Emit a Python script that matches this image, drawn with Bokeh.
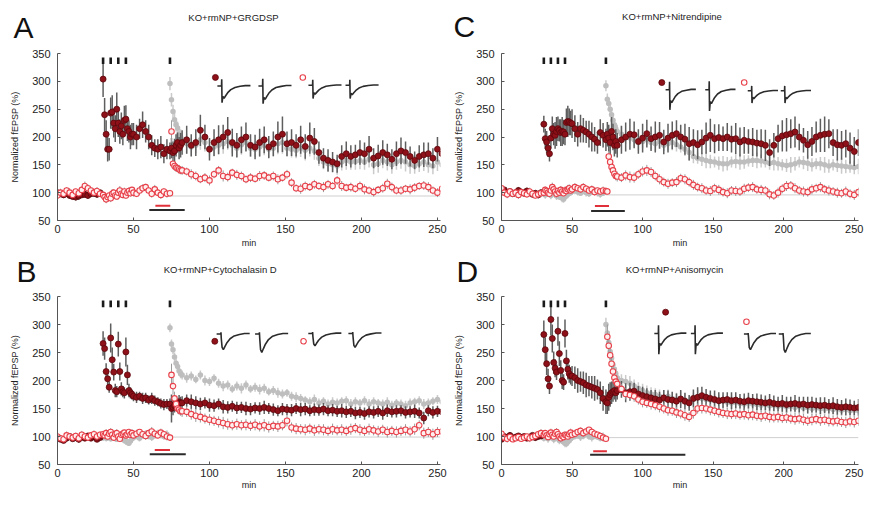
import math
from bokeh.plotting import figure
from bokeh.layouts import row, column
from bokeh.models import FixedTicker, Range1d
from bokeh.core.properties import value
from bokeh.embed import file_html
from bokeh.resources import INLINE

N = float("nan")
FONT = "Liberation Sans"

# ---------------- sampling grid (minutes) ----------------
t_base = list(range(0, 30, 2))      # 15
t_tet = list(range(30, 50))         # 20
t_pre = list(range(50, 74, 2))      # 12
t_s2 = list(range(74, 82))          # 8
t_post = list(range(82, 256, 3))    # 58
minutes = t_base + t_tet + t_pre + t_s2 + t_post
NPTS = len(minutes)


def series(*segs):
    out = []
    for s in segs:
        out += s
    return (out + [N] * NPTS)[:NPTS]


# ---------------- Panel A : KO+rmNP+GRGDSP ----------------
A_red = series(
    [100, 98, 96, 99, 95, 93, 92, 94, 96, 97, 95, 98, 99, 97, 100],
    [304, 240, 205, 178, 178, 243, 245, 225, 215, 250, 225, 210, 220, 205, 230, 232, 215, 210, 200, 205],
    [205, 200, 215, 222, 210, 200, 185, 180, 178, 182, 170, 178],
    [175, 180, 172, 175, 185, 190, 180, 185],
    [190, 195, 185, 190, 212, 200, 178, 190, 195, 200, 208, 190, 185, 195, 200,
     185, 182, 190, 195, 182, 188, 200, 205, 188, 190, 185, 195, 183, 198, 192, 172,
     162, 158, 155, 152, 165, 170, 165, 168, 172, 170, 178, 162, 166, 172, 168, 160,
     170, 175, 172, 165, 158, 165, 168, 170, 162, 178, 170])
A_red_err = series(
    [5, 6, 5, 7, 6, 5, 6, 7, 5, 6, 6, 5, 7, 6, 5],
    [32, 30, 25, 22, 20, 28, 30, 26, 24, 30, 25, 22, 24, 20, 26, 25, 22, 20, 22, 20],
    [20, 22, 18, 24, 20, 22, 18, 16, 18, 20, 17, 18],
    [15, 18, 20, 22, 20, 18, 20, 22],
    [22, 25, 20, 24, 28, 22, 20, 24, 26, 22, 28, 25, 22, 24, 26, 20, 22, 25, 24, 20,
     22, 28, 32, 22, 24, 20, 25, 22, 28, 24, 20, 18, 20, 18, 16, 20, 22, 20, 18, 22,
     20, 24, 18, 20, 22, 20, 18, 22, 24, 20, 18, 16, 20, 22, 20, 18, 22, 20])
A_pink = series(
    [95, 100, 98, 104, 100, 96, 102, 99, 105, 112, 108, 104, 100, 103, 98],
    [96, 92, 88, 92, 95, 90, 98, 100, 95, 93, 100, 104, 98, 96, 102, 95, 100, 103, 99, 105],
    [100, 98, 104, 108, 110, 104, 98, 106, 100, 96, 102, 98],
    [99, 210, 152, 148, 145, 144, 142, 140],
    [140, 138, 133, 130, 124, 127, 122, 133, 140, 130, 128, 136, 132, 130, 124,
     127, 125, 130, 131, 127, 130, 124, 127, 133, 118, 108, 107, 112, 110, 115, 112,
     110, 115, 112, 122, 112, 109, 110, 107, 112, 106, 104, 101, 105, 108, 116, 110,
     104, 104, 107, 106, 109, 112, 113, 110, 104, 100, 107])
A_pink_err = series(
    [6, 7, 5, 6, 8, 6, 5, 7, 6, 8, 7, 6, 5, 7, 6],
    [6, 8, 7, 6, 5, 7, 8, 6, 7, 6, 5, 8, 7, 6, 7, 6, 8, 7, 6, 5],
    [7, 6, 8, 7, 6, 5, 7, 8, 6, 7, 6, 7],
    [6, 20, 10, 8, 8, 7, 8, 7],
    [8, 7, 9, 8, 7, 8, 9, 7, 8, 10, 8, 7, 9, 8, 7, 8, 7, 9, 8, 7, 8, 9, 7, 8,
     8, 7, 9, 8, 7, 8, 7, 9, 8, 7, 8, 9, 7, 8, 7, 8, 9, 7, 8, 7, 8, 9, 8, 7,
     8, 7, 9, 8, 7, 8, 9, 7, 8, 7])
A_gray = series(
    [N] * 15, [N] * 20, [N] * 12,
    [296, 267, 246, 231, 222, 216, 205, 200],
    [195, 188, 182, 185, 195, 190, 180, 182, 185, 188, 192, 185, 180, 186, 190,
     180, 178, 182, 185, 178, 180, 188, 190, 180, 178, 176, 180, 176, 180, 175, 162,
     155, 152, 150, 148, 155, 158, 155, 156, 158, 155, 160, 150, 152, 158, 155, 150,
     155, 158, 155, 150, 148, 152, 155, 150, 148, 155, 150])
A_gray_err = series(
    [N] * 15, [N] * 20, [N] * 12,
    [12, 12, 12, 12, 12, 12, 14, 14],
    [15, 18, 16, 14, 18, 16, 15, 17, 16, 18, 15, 14, 16, 18, 15, 16, 14, 17, 18, 15,
     16, 19, 20, 16, 15, 14, 16, 18, 15, 16, 14, 13, 15, 14, 16, 15, 17, 14, 15, 16,
     14, 15, 17, 16, 14, 15, 16, 14, 15, 17, 16, 14, 15, 16, 14, 15, 16, 14])

# ---------------- Panel B : KO+rmNP+Cytochalasin D ----------------
B_red = series(
    [98, 95, 93, 97, 100, 96, 98, 95, 99, 97, 101, 97, 100, 95, 98],
    [266, 257, 216, 203, 188, 276, 237, 215, 182, 180, 265, 216, 185, 180, 178, 251, 210, 182, 178, 175],
    [172, 170, 172, 168, 169, 165, 168, 164, 162, 159, 157, 158],
    [158, 150, 152, 155, 160, 158, 162, 160],
    [160, 164, 162, 160, 158, 160, 156, 155, 158, 153, 152, 154, 151, 152, 150,
     149, 151, 150, 152, 150, 148, 146, 149, 148, 147, 150, 148, 149, 146, 148, 147,
     149, 146, 147, 145, 146, 144, 145, 142, 143, 141, 144, 143, 145, 142, 146, 144,
     145, 146, 143, 144, 145, 142, 133, 146, 143, 145, 144])
B_red_err = series(
    [4, 5, 4, 6, 5, 4, 5, 6, 4, 5, 5, 4, 6, 5, 4],
    [22, 20, 15, 12, 10, 26, 22, 15, 12, 10, 22, 16, 12, 10, 10, 26, 18, 12, 10, 9],
    [9, 10, 8, 10, 9, 8, 10, 9, 8, 9, 10, 9],
    [10, 25, 14, 12, 11, 10, 12, 11],
    [12, 11, 13, 12, 11, 10, 12, 11, 10, 12, 11, 10, 11, 10, 12, 11, 10, 11, 12, 10,
     11, 10, 11, 10, 11, 10, 12, 11, 10, 11, 10, 11, 10, 11, 10, 12, 11, 10, 11, 10,
     11, 10, 11, 10, 12, 11, 10, 11, 10, 11, 10, 12, 10, 11, 10, 11, 10, 11])
B_pink = series(
    [100, 97, 95, 102, 100, 98, 101, 97, 103, 100, 98, 102, 104, 100, 103],
    [104, 102, 106, 100, 105, 108, 103, 98, 104, 106, 100, 96, 103, 105, 107, 102, 104, 108, 103, 106],
    [102, 105, 108, 104, 101, 106, 109, 105, 102, 107, 104, 100],
    [98, 210, 190, 168, 158, 150, 148, 145],
    [145, 144, 140, 137, 135, 132, 130, 128, 126, 124, 122, 120, 122, 120, 121,
     119, 121, 118, 120, 117, 119, 118, 120, 128, 116, 114, 113, 112, 114, 111, 113,
     112, 110, 113, 111, 112, 110, 113, 115, 112, 110, 113, 111, 109, 112, 108, 110,
     108, 110, 112, 109, 113, 120, 106, 108, 104, 108, 109])
B_pink_err = series(
    [5, 6, 5, 7, 6, 5, 6, 5, 7, 6, 5, 6, 7, 5, 6],
    [6, 5, 7, 6, 5, 7, 6, 5, 6, 7, 5, 6, 7, 6, 5, 6, 7, 5, 6, 7],
    [6, 7, 5, 6, 7, 6, 8, 6, 5, 7, 6, 7],
    [6, 20, 15, 12, 10, 9, 9, 8],
    [10, 9, 10, 11, 10, 9, 10, 9, 10, 11, 10, 9, 10, 9, 10, 9, 10, 9, 11, 10,
     9, 10, 9, 10, 9, 10, 9, 10, 9, 10, 9, 10, 9, 10, 9, 10, 9, 10, 9, 10,
     9, 10, 9, 10, 9, 10, 9, 10, 9, 10, 9, 10, 9, 10, 9, 10, 9, 10])
B_gray = series(
    [N] * 15,
    [98, 100, 97, 99, 101, 96, 98, 100, 97, 95, 99, 102, 98, 95, 93, 92, 90, 88, 92, 96],
    [98, 100, 97, 103, 105, 100, 98, 103, 106, 102, 100, 104],
    [294, 265, 255, 242, 231, 225, 217, 212],
    [210, 205, 208, 202, 210, 200, 198, 204, 195, 190, 192, 185, 190, 186, 192,
     185, 188, 184, 186, 180, 182, 178, 176, 178, 172, 170, 168, 165, 162, 166, 160,
     163, 158, 161, 160, 163, 164, 158, 162, 160, 164, 158, 162, 160, 158, 161, 156,
     160, 158, 155, 160, 162, 164, 158, 160, 163, 166, 162])
B_gray_err = series(
    [N] * 15,
    [6, 5, 6, 7, 6, 5, 6, 7, 6, 5, 6, 7, 6, 5, 6, 7, 6, 5, 6, 7],
    [6, 5, 6, 7, 6, 5, 6, 7, 6, 5, 6, 7],
    [8, 8, 8, 8, 8, 8, 8, 8],
    [8, 9, 8, 7, 8, 9, 8, 7, 8, 9, 8, 7, 8, 9, 8, 7, 8, 9, 8, 7, 8, 9, 8, 7,
     8, 9, 8, 7, 8, 9, 8, 7, 8, 9, 8, 7, 8, 9, 8, 7, 8, 9, 8, 7, 8, 9, 8, 7,
     8, 9, 8, 7, 8, 9, 8, 7, 8, 9])

# ---------------- Panel C : KO+rmNP+Nitrendipine ----------------
C_red = series(
    [103, 105, 100, 102, 98, 100, 104, 101, 99, 103, 100, 97, 99, 96, 100],
    [223, 197, 191, 180, 170, 198, 215, 205, 203, 210, 215, 212, 208, 210, 209, 205, 226, 228, 227, 225],
    [224, 215, 205, 215, 212, 209, 205, 200, 196, 190, 208, 203],
    [195, 205, 198, 190, 210, 200, 185, 192],
    [185, 195, 200, 205, 204, 192, 198, 206, 197, 200, 203, 191, 198, 203, 206,
     200, 196, 188, 190, 186, 191, 198, 203, 197, 199, 197, 200, 196, 197, 191, 194,
     192, 191, 189, 188, 185, 172, 185, 197, 202, 204, 206, 209, 200, 194, 186, 192,
     200, 203, 205, 206, 190, 186, 185, 188, 180, 174, 190])
C_red_err = series(
    [5, 4, 6, 5, 4, 5, 6, 4, 5, 6, 5, 4, 5, 6, 5],
    [15, 18, 20, 16, 14, 18, 22, 20, 24, 26, 22, 20, 24, 26, 22, 20, 25, 28, 24, 22],
    [26, 24, 22, 25, 22, 20, 24, 26, 22, 20, 24, 22],
    [20, 22, 24, 22, 26, 24, 20, 22],
    [22, 25, 26, 28, 24, 22, 26, 25, 22, 28, 24, 22, 26, 25, 24, 22, 28, 30, 24, 26,
     22, 28, 30, 26, 24, 22, 25, 24, 28, 26, 24, 22, 25, 24, 26, 28, 24, 22, 25, 28,
     30, 26, 28, 24, 22, 25, 26, 28, 30, 32, 26, 24, 28, 26, 25, 28, 26, 24])
C_pink = series(
    [108, 100, 97, 102, 98, 100, 96, 101, 99, 97, 102, 98, 95, 97, 99],
    [100, 105, 103, 100, 98, 104, 110, 106, 102, 98, 103, 100, 105, 102, 99, 104, 103, 106, 108, 104],
    [106, 110, 108, 106, 110, 107, 104, 106, 101, 104, 102, 104],
    [103, 102, 165, 155, 146, 140, 134, 130],
    [129, 127, 131, 128, 127, 133, 138, 140, 137, 130, 124, 119, 116, 118, 119,
     126, 124, 119, 114, 110, 108, 104, 103, 108, 105, 101, 99, 104, 103, 102, 107,
     109, 110, 106, 105, 104, 97, 95, 100, 107, 112, 113, 108, 104, 102, 101, 106,
     108, 110, 106, 104, 102, 100, 99, 102, 98, 96, 101])
C_pink_err = series(
    [6, 5, 7, 6, 5, 6, 7, 5, 6, 5, 7, 6, 5, 6, 7],
    [7, 6, 5, 7, 6, 5, 8, 6, 5, 7, 6, 5, 7, 6, 5, 7, 6, 8, 7, 6],
    [6, 7, 5, 6, 7, 6, 5, 7, 6, 5, 6, 7],
    [6, 5, 10, 9, 8, 9, 8, 8],
    [9, 8, 9, 10, 9, 8, 9, 10, 9, 8, 9, 8, 9, 8, 9, 8, 9, 8, 9, 8, 9, 8, 9, 8,
     9, 8, 9, 8, 9, 8, 9, 8, 9, 8, 9, 8, 9, 8, 9, 8, 9, 8, 9, 8, 9, 8, 9, 8,
     9, 8, 9, 8, 9, 8, 9, 8, 9, 8])
C_gray = series(
    [N] * 15,
    [98, 96, 100, 97, 99, 95, 98, 101, 97, 94, 96, 92, 94, 90, 88, 92, 95, 97, 99, 100],
    [102, 104, 101, 99, 103, 100, 98, 101, 104, 100, 97, 99],
    [292, 268, 260, 250, 240, 230, 222, 215],
    [210, 205, 200, 198, 195, 190, 192, 195, 190, 188, 192, 185, 188, 190, 186,
     182, 178, 172, 165, 162, 160, 158, 156, 155, 153, 152, 152, 155, 156, 155, 155,
     157, 158, 158, 157, 155, 153, 154, 152, 150, 149, 150, 152, 155, 154, 153, 150,
     152, 152, 150, 148, 150, 149, 148, 147, 146, 145, 147])
C_gray_err = series(
    [N] * 15,
    [6, 7, 6, 5, 6, 7, 6, 5, 6, 7, 6, 5, 6, 7, 6, 5, 6, 7, 6, 5],
    [6, 7, 6, 5, 6, 7, 6, 5, 6, 7, 6, 5],
    [10, 10, 10, 10, 10, 10, 10, 10],
    [12, 14, 12, 10, 12, 14, 12, 10, 12, 14, 12, 10, 12, 14, 12, 10, 12, 14, 12, 10,
     12, 14, 12, 10, 12, 14, 12, 10, 12, 14, 12, 10, 12, 14, 12, 10, 12, 14, 12, 10,
     12, 14, 12, 10, 12, 14, 12, 10, 12, 14, 12, 10, 12, 14, 12, 10, 12, 14])

# ---------------- Panel D : KO+rmNP+Anisomycin ----------------
D_red = series(
    [95, 100, 98, 102, 97, 99, 101, 98, 100, 97, 99, 102, 98, 100, 101],
    [282, 255, 230, 203, 190, 309, 275, 232, 222, 215, 288, 248, 218, 200, 197, 284, 235, 220, 212, 208],
    [208, 205, 200, 198, 196, 192, 190, 188, 186, 184, 178, 168],
    [162, 160, 170, 175, 178, 180, 182, 178],
    [182, 184, 178, 180, 181, 176, 173, 171, 169, 167, 165, 169, 166, 165, 163,
     167, 163, 160, 168, 170, 173, 170, 168, 166, 164, 165, 166, 164, 165, 163, 162,
     164, 163, 162, 161, 160, 161, 159, 158, 159, 157, 158, 159, 157, 158, 156, 157,
     156, 155, 156, 154, 155, 153, 152, 153, 152, 151, 152])
D_red_err = series(
    [4, 5, 4, 6, 5, 4, 5, 6, 4, 5, 5, 4, 6, 5, 4],
    [25, 22, 20, 18, 14, 28, 25, 20, 16, 14, 26, 22, 18, 15, 14, 25, 20, 18, 16, 15],
    [18, 20, 22, 18, 20, 22, 18, 20, 22, 18, 20, 22],
    [22, 20, 24, 22, 20, 18, 16, 16],
    [16, 15, 17, 16, 15, 14, 16, 15, 14, 16, 15, 14, 16, 15, 14, 16, 15, 14, 16, 18,
     16, 15, 14, 16, 15, 14, 13, 15, 14, 13, 15, 14, 13, 15, 14, 13, 15, 14, 13, 15,
     14, 13, 15, 14, 13, 15, 14, 13, 15, 14, 13, 15, 14, 13, 15, 14, 13, 15])
D_pink = series(
    [105, 98, 96, 99, 95, 97, 99, 96, 98, 100, 97, 99, 101, 104, 106],
    [103, 106, 102, 99, 104, 107, 103, 100, 105, 108, 104, 100, 97, 101, 99, 103, 102, 100, 104, 107],
    [103, 105, 108, 110, 106, 109, 112, 108, 105, 103, 101, 98],
    [96, 278, 262, 245, 230, 216, 205, 198],
    [194, 185, 176, 174, 172, 166, 162, 160, 158, 156, 153, 150, 147, 146, 143,
     141, 138, 135, 142, 150, 151, 150, 148, 146, 144, 142, 141, 140, 141, 139, 140,
     138, 139, 137, 136, 137, 135, 134, 135, 133, 134, 132, 131, 132, 130, 128, 130,
     131, 129, 130, 128, 127, 128, 126, 125, 127, 126, 128])
D_pink_err = series(
    [6, 5, 7, 6, 5, 6, 7, 5, 6, 5, 7, 6, 5, 6, 7],
    [6, 5, 7, 6, 5, 7, 6, 5, 6, 7, 5, 6, 7, 6, 5, 6, 7, 5, 6, 7],
    [6, 7, 5, 6, 7, 6, 5, 7, 6, 5, 6, 7],
    [6, 22, 18, 15, 12, 10, 10, 10],
    [10, 9, 10, 9, 10, 9, 10, 9, 10, 9, 10, 9, 10, 9, 10, 9, 10, 9, 10, 9, 10, 9, 10, 9,
     10, 9, 10, 9, 10, 9, 10, 9, 10, 9, 10, 9, 10, 9, 10, 9, 10, 9, 10, 9, 10, 9, 10, 9,
     10, 9, 10, 9, 10, 9, 10, 9, 10, 9])
D_gray = series(
    [N] * 15,
    [97, 100, 98, 96, 99, 101, 98, 95, 97, 99, 96, 93, 95, 92, 90, 88, 87, 90, 93, 96],
    [98, 100, 102, 99, 101, 104, 100, 98, 101, 99, 97, 100],
    [300, 285, 268, 252, 240, 228, 220, 212],
    [205, 200, 198, 195, 190, 186, 182, 178, 176, 175, 172, 170, 172, 168, 166,
     168, 165, 162, 166, 170, 168, 166, 165, 164, 162, 163, 161, 160, 161, 159, 158,
     160, 158, 157, 156, 157, 155, 156, 154, 155, 153, 154, 152, 153, 151, 152, 150,
     151, 150, 149, 150, 148, 149, 147, 148, 146, 147, 146])
D_gray_err = series(
    [N] * 15,
    [6, 5, 6, 7, 6, 5, 6, 7, 6, 5, 6, 7, 6, 5, 6, 7, 6, 5, 6, 7],
    [6, 5, 6, 7, 6, 5, 6, 7, 6, 5, 6, 7],
    [12, 12, 12, 12, 12, 12, 12, 12],
    [12, 11, 12, 13, 12, 11, 12, 13, 12, 11, 12, 13, 12, 11, 12, 13, 12, 11, 12, 13,
     12, 11, 12, 13, 12, 11, 12, 13, 12, 11, 12, 13, 12, 11, 12, 13, 12, 11, 12, 13,
     12, 11, 12, 13, 12, 11, 12, 13, 12, 11, 12, 13, 12, 11, 12, 13, 12, 11])

# ---------------- protocol annotations ----------------
tetanus_times = [30, 35, 40, 45, 74]
red_bar_start = [64.4, 64.0, 66.2, 65.0]
red_bar_end = [74.2, 74.0, 76.2, 74.7]
black_bar_start = [60.4, 60.7, 63.5, 62.8]
black_bar_end = [83.7, 84.4, 87.4, 130.3]
ref_line_level = [94, 99, 96, 98]

# inset fEPSP trace shape (normalised)
trace_ms = [0, 4, 4.2, 4.5, 5.3, 6.5, 8, 10, 13, 17, 22, 27, 32]
trace_art = [0, 0, 0.4, -1.0, 0, 0, 0, 0, 0, 0, 0, 0, 0]
trace_epsp = [0, 0, 0, 0, 0.85, 1.0, 0.8, 0.55, 0.3, 0.12, 0.03, -0.03, -0.03]
trace_epsp_amp = {"A": [22, 24, 16, 17], "B": [28, 33, 22, 25],
                  "C": [23, 25, 14, 14], "D": [21, 21, 28, 33]}
trace_art_amp = {"A": [30, 32, 24, 24], "B": [8, 8, 6, 6],
                 "C": [36, 38, 22, 22], "D": [37, 37, 4, 4]}

titles = {"A": "KO+rmNP+GRGDSP", "B": "KO+rmNP+Cytochalasin D",
          "C": "KO+rmNP+Nitrendipine", "D": "KO+rmNP+Anisomycin"}

# ---------------- layout (positions / styles) ----------------
COL_W = {0: 448, 1: 416}
BORDER_L = {0: 57, 1: 53}
BORDER_R = {0: 8, 1: 6}
HEAD_H = {0: 44, 1: 40}
PLOT_H = {0: 206, 1: 202}
BORDER_T = {0: 9, 1: 6}
BORDER_B = {0: 29, 1: 28}
XMAX = {0: 252, 1: 253}

layout = {
    "A": dict(i=0, col=0, row=0, head_title=(233, 16.7), head_letter=(13, 27),
              bars_y=(76.7, 69), trace_x=[105.2, 132.2, 165.1, 189.5], trace_y=[291.7, 291.7, 293, 293],
              trace_w=0.68, mk_fill=(103.9, 307), mk_open=(161.4, 307)),
    "B": dict(i=1, col=0, row=1, head_title=(219.7, 18.7), head_letter=(16, 21),
              bars_y=(76, 68.4), trace_x=[104.7, 130, 165, 191.4], trace_y=[283, 283, 284, 284],
              trace_w=0.68, mk_fill=(103.5, 270), mk_open=(161.9, 270)),
    "C": dict(i=2, col=1, row=0, head_title=(223.5, 16), head_letter=(5, 26),
              bars_y=(76.2, 67), trace_x=[116.3, 144.4, 174.5, 197.9], trace_y=[284.8, 284.8, 283, 283],
              trace_w=0.67, mk_fill=(113.6, 297.8), mk_open=(172, 298)),
    "D": dict(i=3, col=1, row=1, head_title=(226, 19.3), head_letter=(8, 21),
              bars_y=(73.5, 67.6), trace_x=[108.3, 134.2, 171.8, 196.5], trace_y=[284, 284, 283, 283],
              trace_w=0.71, mk_fill=(116.3, 322), mk_open=(173.6, 304.8)),
}

DATA = {
    "A": (A_red, A_red_err, A_pink, A_pink_err, A_gray, A_gray_err),
    "B": (B_red, B_red_err, B_pink, B_pink_err, B_gray, B_gray_err),
    "C": (C_red, C_red_err, C_pink, C_pink_err, C_gray, C_gray_err),
    "D": (D_red, D_red_err, D_pink, D_pink_err, D_gray, D_gray_err),
}

RED_FILL = "#8E1018"
RED_LINE = "#5C070C"
PINK_LINE = "#E8404A"
PINK_FILL = "#FFF0F0"
GRAY_FILL = "#BEBEBE"


def no_align(fig):
    try:
        fig.frame_align = False
    except Exception:
        pass


def valid(vals, errs=None):
    xs, ys, lo, hi = [], [], [], []
    for k, (t, v) in enumerate(zip(minutes, vals)):
        if v is None or math.isnan(v):
            continue
        xs.append(t)
        ys.append(v)
        e = errs[k] if errs is not None else N
        if e is None or math.isnan(e):
            e = 0
        lo.append(v - e)
        hi.append(v + e)
    return xs, ys, lo, hi


def build_header(key):
    L = layout[key]
    w = COL_W[L["col"]]
    h = HEAD_H[L["row"]]
    hp = figure(width=w, height=h, x_range=Range1d(0, w), y_range=Range1d(h, 0),
                output_backend="svg", toolbar_location=None,
                x_axis_type=None, y_axis_type=None,
                min_border=0, min_border_left=0, min_border_right=0,
                min_border_top=0, min_border_bottom=0)
    no_align(hp)
    hp.grid.visible = False
    hp.outline_line_color = None
    hp.background_fill_color = "white"
    hp.border_fill_color = "white"
    tx, ty = L["head_title"]
    hp.text(x=[tx], y=[ty], text=[titles[key]], text_font=value(FONT),
            text_font_size="9.5px", text_color="#222222",
            text_align="center", text_baseline="middle")
    lx, ly = L["head_letter"]
    hp.text(x=[lx], y=[ly], text=[key], text_font=value(FONT),
            text_font_size="30px", text_color="#111111",
            text_align="left", text_baseline="middle")
    return hp


def build(key):
    L = layout[key]
    i = L["i"]
    red, red_e, pink, pink_e, gray, gray_e = DATA[key]
    col, rw = L["col"], L["row"]
    xmax = XMAX[col]
    p = figure(width=COL_W[col], height=PLOT_H[rw],
               x_range=Range1d(0, xmax), y_range=Range1d(50, 350),
               output_backend="svg", toolbar_location=None,
               min_border_left=BORDER_L[col], min_border_right=BORDER_R[col],
               min_border_top=BORDER_T[rw], min_border_bottom=BORDER_B[rw])
    no_align(p)
    p.outline_line_color = None
    p.grid.visible = False
    p.background_fill_color = "white"
    p.border_fill_color = "white"

    for ax in (p.xaxis[0], p.yaxis[0]):
        ax.axis_line_color = "#555555"
        ax.major_tick_line_color = "#555555"
        ax.major_tick_in = 3
        ax.major_tick_out = 0
        ax.minor_tick_line_color = None
        ax.major_label_text_font = FONT
        ax.major_label_text_font_size = "11px"
        ax.major_label_text_color = "#222222"
        ax.axis_label_text_font = FONT
        ax.axis_label_text_font_size = "9px"
        ax.axis_label_text_font_style = "normal"
        ax.axis_label_text_color = "#222222"
    p.xaxis.ticker = FixedTicker(ticks=[0, 50, 100, 150, 200, 250])
    p.yaxis.ticker = FixedTicker(ticks=[50, 100, 150, 200, 250, 300, 350])
    p.xaxis.axis_label = "min"
    p.yaxis.axis_label = "Normalized fEPSP (%)"
    p.xaxis.major_label_standoff = 4
    p.xaxis.axis_label_standoff = 2 if rw == 0 else 0
    p.yaxis.major_label_standoff = 7
    p.yaxis.axis_label_standoff = 9

    # 100 % reference line
    lvl = ref_line_level[i]
    p.line(x=[74, xmax], y=[lvl, lvl], line_color="#CFCFCF", line_width=1)

    # gray series
    gx, gy, glo, ghi = valid(gray, gray_e)
    p.segment(x0=gx, y0=glo, x1=gx, y1=ghi, line_color="#CACACA", line_width=1.5)
    p.scatter(x=gx, y=gy, size=5.5, fill_color=GRAY_FILL, line_color=None)

    # error bars
    rx, ry, rlo, rhi = valid(red, red_e)
    p.segment(x0=rx, y0=rlo, x1=rx, y1=rhi, line_color="#5E5E5E", line_width=1.5)
    px_, py_, plo, phi = valid(pink, pink_e)
    p.segment(x0=px_, y0=plo, x1=px_, y1=phi, line_color="#9A9A9A", line_width=1)

    # markers
    p.scatter(x=rx, y=ry, size=6, fill_color=RED_FILL, line_color=RED_LINE, line_width=0.8)
    p.scatter(x=px_, y=py_, size=5.5, fill_color=PINK_FILL, line_color=PINK_LINE, line_width=1.1)

    # tetanus markers
    p.segment(x0=tetanus_times, y0=[331] * len(tetanus_times), x1=tetanus_times,
              y1=[343] * len(tetanus_times), line_color="#1A1A1A", line_width=2.6)

    # drug bars
    ry_bar, by_bar = L["bars_y"]
    p.segment(x0=[black_bar_start[i]], y0=[by_bar], x1=[black_bar_end[i]], y1=[by_bar],
              line_color="#2A2A2A", line_width=2)
    p.segment(x0=[red_bar_start[i]], y0=[ry_bar], x1=[red_bar_end[i]], y1=[ry_bar],
              line_color="#E0303A", line_width=2)

    # inset traces
    xs_all, ys_all = [], []
    for k in range(4):
        x0 = L["trace_x"][k]
        b = L["trace_y"][k]
        ea = trace_epsp_amp[key][k]
        aa = trace_art_amp[key][k]
        xs_all.append([x0 + m * L["trace_w"] for m in trace_ms])
        ys_all.append([b + a * aa - e * ea for a, e in zip(trace_art, trace_epsp)])
    p.multi_line(xs=xs_all, ys=ys_all, line_color="#2B2B2B", line_width=1.6)
    p.scatter(x=[L["mk_fill"][0]], y=[L["mk_fill"][1]], size=6, fill_color=RED_FILL,
              line_color=RED_LINE, line_width=0.8)
    p.scatter(x=[L["mk_open"][0]], y=[L["mk_open"][1]], size=5.5, fill_color="white",
              line_color=PINK_LINE, line_width=1.1)
    return p


def panel(key):
    return column(build_header(key), build(key))


page = column(row(panel("A"), panel("C")), row(panel("B"), panel("D")))

open("out.html", "w").write(file_html(page, INLINE))
